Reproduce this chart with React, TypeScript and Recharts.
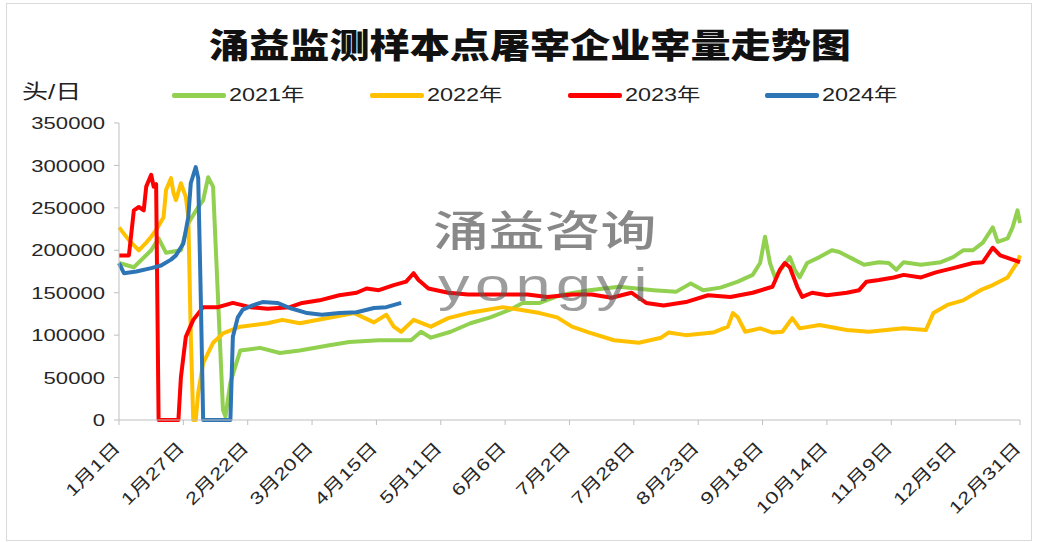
import { LineChart, Line, XAxis, YAxis } from 'recharts';

// [day of year (0 = 1月1日), head per day]
const data2021: [number, number][] = [
  [0, 185000], [6, 180000], [13, 200000], [16, 214000], [19, 197000], [25, 200000],
  [28, 232000], [32, 251000], [34, 259000], [36, 286000], [38, 275000], [42, 12000],
  [43, 4000], [45, 44000], [49, 82000], [57, 85000], [65, 79000], [73, 82000],
  [85, 88000], [93, 92000], [105, 94000], [118, 94000], [122, 104000], [126, 97000],
  [134, 104000], [142, 114000], [150, 121000], [158, 130000], [163, 138000], [170, 138000],
  [178, 147000], [190, 153000], [202, 157000], [216, 153000], [225, 151000], [231, 161000],
  [236, 153000], [243, 156000], [250, 163000], [256, 171000], [259, 185000], [261, 216000],
  [263, 185000], [265, 168000], [268, 180000], [271, 192000], [273, 177000], [275, 168000],
  [278, 185000], [283, 192000], [288, 200000], [291, 198000], [297, 189000], [301, 183000],
  [307, 186000], [311, 185000], [314, 177000], [317, 186000], [324, 183000], [332, 186000],
  [337, 192000], [341, 200000], [345, 200000], [349, 209000], [353, 227000], [355, 210000],
  [359, 214000], [361, 227000], [363, 247000], [364, 232000],
];

const data2022: [number, number][] = [
  [0, 227000], [4, 212000], [8, 200000], [11, 209000], [13, 216000], [15, 224000],
  [18, 239000], [19, 271000], [21, 285000], [22, 268000], [23, 259000], [25, 279000],
  [27, 263000], [28, 239000], [29, 100000], [30, 0], [31, 0], [32, 32000],
  [34, 67000], [38, 91000], [42, 102000], [49, 110000], [60, 114000], [66, 118000],
  [73, 114000], [86, 121000], [95, 126000], [103, 115000], [108, 124000], [111, 110000],
  [114, 104000], [119, 118000], [126, 110000], [133, 120000], [141, 126000], [149, 130000],
  [155, 133000], [162, 130000], [170, 126000], [177, 121000], [183, 110000], [190, 103000],
  [200, 94000], [210, 91000], [219, 97000], [222, 103000], [229, 100000], [240, 103000],
  [246, 110000], [248, 126000], [250, 121000], [253, 104000], [259, 108000], [264, 103000],
  [268, 104000], [272, 120000], [275, 108000], [283, 112000], [294, 106000], [303, 104000],
  [317, 108000], [326, 106000], [329, 126000], [335, 136000], [341, 141000], [348, 153000],
  [353, 159000], [359, 168000], [363, 186000], [364, 194000],
];

const data2023: [number, number][] = [
  [0, 194000], [4, 194000], [6, 247000], [8, 251000], [10, 247000], [11, 275000],
  [13, 289000], [14, 275000], [15, 278000], [16, 0], [24, 0], [25, 50000],
  [27, 98000], [30, 118000], [34, 133000], [40, 133000], [46, 138000], [53, 133000],
  [60, 131000], [69, 133000], [74, 138000], [81, 141000], [89, 147000], [96, 150000],
  [100, 155000], [105, 153000], [111, 159000], [116, 163000], [119, 173000], [121, 165000],
  [125, 155000], [133, 150000], [141, 148000], [149, 148000], [157, 148000], [165, 148000],
  [173, 145000], [183, 148000], [191, 148000], [199, 144000], [207, 150000], [213, 138000],
  [220, 135000], [229, 139000], [238, 147000], [247, 145000], [256, 150000], [264, 157000],
  [267, 177000], [269, 185000], [271, 180000], [274, 157000], [276, 145000], [280, 150000],
  [286, 147000], [294, 150000], [299, 153000], [302, 163000], [307, 165000], [313, 168000],
  [317, 171000], [324, 168000], [330, 174000], [337, 179000], [345, 185000], [349, 186000],
  [353, 203000], [356, 194000], [361, 189000], [364, 186000],
];

const data2024: [number, number][] = [
  [0, 185000], [2, 173000], [7, 175000], [13, 179000], [17, 182000], [21, 189000],
  [23, 194000], [26, 208000], [28, 239000], [29, 279000], [31, 298000], [32, 285000],
  [33, 150000], [34, 0], [45, 0], [46, 98000], [48, 121000], [50, 130000],
  [54, 135000], [58, 139000], [64, 138000], [69, 132000], [76, 126000], [82, 124000],
  [89, 126000], [96, 127000], [103, 132000], [108, 133000], [114, 138000],
];

const xLabels = [
  '1月1日', '1月27日', '2月22日', '3月20日', '4月15日', '5月11日', '6月6日', '7月2日',
  '7月28日', '8月23日', '9月18日', '10月14日', '11月9日', '12月5日', '12月31日',
];
const xTicks = xLabels.map((_, i) => i * 26);
const yTicks = [0, 50000, 100000, 150000, 200000, 250000, 300000, 350000];

const series = [
  { name: '2021年', color: '#92D050', data: data2021 },
  { name: '2022年', color: '#FFC000', data: data2022 },
  { name: '2023年', color: '#FF0000', data: data2023 },
  { name: '2024年', color: '#2E75B6', data: data2024 },
];

const legendX = [172, 370, 568, 765];
const font = "'Liberation Sans', 'Noto Sans CJK SC', sans-serif";

const YTick = ({ x, y, payload }: any) => (
  <g transform={`translate(${x},${y})`}>
    <text transform="scale(1.3,1)" textAnchor="end" dy="0.36em" fontSize={17} fill="#262626" fontFamily={font}>
      {payload.value}
    </text>
  </g>
);

const XTick = ({ x, y, payload }: any) => {
  const i = xTicks.indexOf(payload.value);
  return (
    <g transform={`translate(${x + 2},${y})`}>
      <text transform="rotate(-45) scale(1.3,1)" textAnchor="end" fontSize={17} fill="#262626" fontFamily={font}>
        {xLabels[i]}
      </text>
    </g>
  );
};

export default function App() {
  return (
    <div style={{ position: 'absolute', left: 0, top: 0, width: 1038, height: 542, background: '#fff', fontFamily: font }}>
      <div style={{ position: 'absolute', left: 6, top: 3, width: 1024, height: 536, border: '1px solid #d9d9d9' }} />
      <div style={{ position: 'absolute', left: 0, width: 1060, top: 22, textAlign: 'center', fontSize: 34, fontWeight: 900, color: '#111', fontFamily: "'Noto Sans CJK SC', sans-serif", transform: 'scaleX(1.18)', transformOrigin: '530px 0', lineHeight: '44px' }}>
        涌益监测样本点屠宰企业宰量走势图
      </div>
      <div style={{ position: 'absolute', left: 22, top: 78, fontSize: 20, color: '#222', transform: 'scaleX(1.3)', transformOrigin: '0 0', lineHeight: '28px' }}>
        头/日
      </div>
      {series.map((s, i) => (
        <div key={s.name} style={{ position: 'absolute', left: legendX[i], top: 82, height: 26 }}>
          <div style={{ position: 'absolute', left: 0, top: 11, width: 54, height: 5, borderRadius: 2, background: s.color }} />
          <div style={{ position: 'absolute', left: 57, top: 0, fontSize: 18, color: '#222', whiteSpace: 'nowrap', transform: 'scaleX(1.3)', transformOrigin: '0 0', lineHeight: '26px' }}>
            {s.name}
          </div>
        </div>
      ))}
      <div style={{ position: 'absolute', left: 0, top: 0 }}>
        <LineChart width={1038} height={542} margin={{ top: 123, right: 18, bottom: 0, left: 0 }}>
          <XAxis
            type="number"
            dataKey="d"
            domain={[0, 364]}
            ticks={xTicks}
            interval={0}
            height={122}
            tickSize={5}
            tickMargin={24}
            stroke="#bfbfbf"
            tick={<XTick />}
            allowDuplicatedCategory={false}
          />
          <YAxis
            type="number"
            domain={[0, 350000]}
            ticks={yTicks}
            interval={0}
            width={119}
            tickSize={5}
            tickMargin={9}
            stroke="#bfbfbf"
            tick={<YTick />}
          />
          {series.map(s => (
            <Line
              key={s.name}
              data={s.data.map(([d, v]) => ({ d, v }))}
              dataKey="v"
              name={s.name}
              type="linear"
              stroke={s.color}
              strokeWidth={4}
              strokeLinejoin="round"
              dot={false}
              activeDot={false}
              isAnimationActive={false}
            />
          ))}
        </LineChart>
      </div>
      <div style={{ position: 'absolute', left: 0, top: 0, width: 1038, height: 542, pointerEvents: 'none' }}>
        <div style={{ position: 'absolute', left: 433, top: 207, fontSize: 42, fontWeight: 500, color: 'rgba(115,115,115,0.85)', fontFamily: "'Noto Sans CJK SC', sans-serif", transform: 'scaleX(1.33)', transformOrigin: '0 0', lineHeight: '42px', whiteSpace: 'nowrap' }}>
          涌益咨询
        </div>
        <div style={{ position: 'absolute', left: 438, top: 262, fontSize: 46, color: 'rgba(90,90,90,0.6)', fontFamily: "'Liberation Sans', sans-serif", transform: 'scaleX(1.37)', transformOrigin: '0 0', lineHeight: '46px', letterSpacing: 4, whiteSpace: 'nowrap' }}>
          yongyi
        </div>
      </div>
    </div>
  );
}
